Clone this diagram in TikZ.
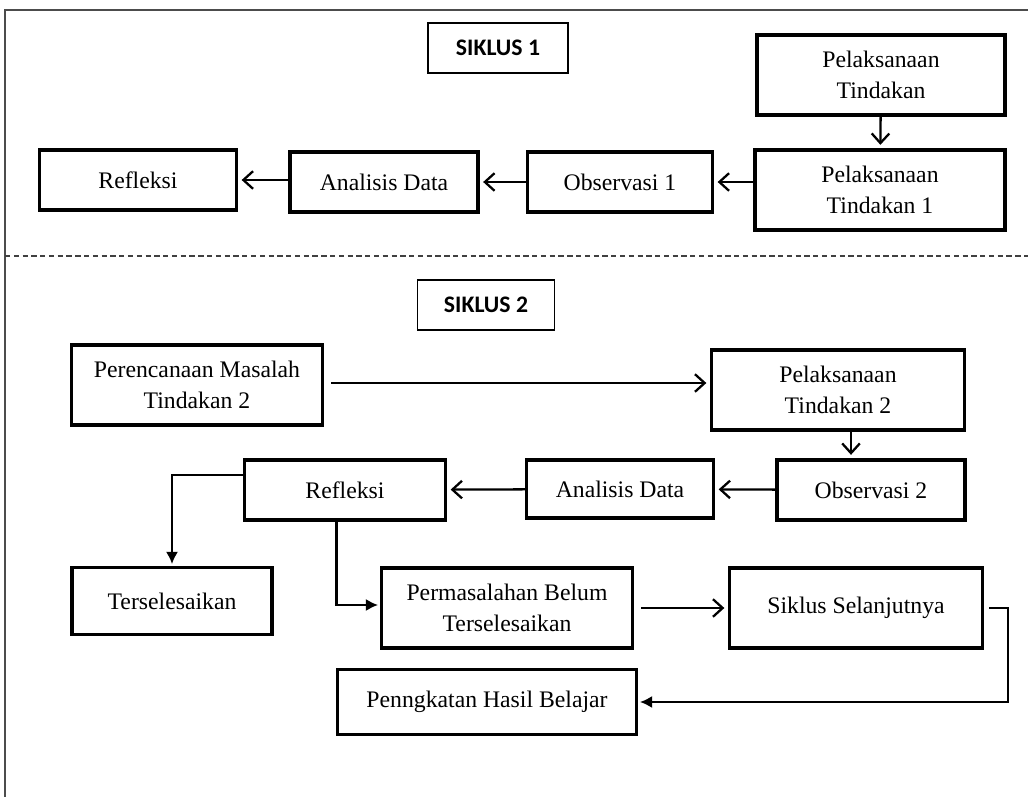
\documentclass[tikz,border=0pt]{standalone}
\usepackage{fontspec}
\setmainfont{Liberation Serif}
\newfontfamily\carlito{Carlito}
\usetikzlibrary{arrows.meta}
\tikzset{
  box/.style={draw, line width=1.9pt, align=center, inner sep=0pt,
    font=\fontsize{13.5}{18}\selectfont},
  title/.style={draw, line width=0.6pt, inner sep=0pt,
    font=\carlito\bfseries\fontsize{13.5}{16}\selectfont},
  flow/.style={line width=1.3pt, -{Straight Barb[length=5.5pt,width=10pt,line width=1.3pt]}, shorten >=2pt},
  flowfill/.style={line width=1.3pt, -{Latex[length=7pt,width=7pt]}, shorten >=1pt}
}

\begin{document}
\begin{tikzpicture}[x=0.02cm, y=-0.02cm]
      \useasboundingbox (0,0) rectangle (1028,797);
      % frame and divider
      \draw[line width=0.6pt, black!70] (5,797) -- (5,10) -- (1028,10);
      \draw[line width=0.7pt, black!75, dash pattern=on 3pt off 2pt] (5,256) -- (1028,256);
      % siklus 1
      \node[title, minimum width=2.8cm, minimum height=1cm] (s1) at (498,48) {SIKLUS 1};
      \node[box, minimum width=4.96cm, minimum height=1.6cm] (pt) at (881,75) {Pelaksanaan\\Tindakan};
      \node[box, minimum width=5cm, minimum height=1.6cm] (pt1) at (880,190) {Pelaksanaan\\Tindakan 1};
      \node[box, minimum width=3.7cm, minimum height=1.2cm] (obs1) at (620,182) {Observasi 1};
      \node[box, minimum width=3.76cm, minimum height=1.2cm] (ad1) at (384,182) {Analisis Data};
      \node[box, minimum width=3.94cm, minimum height=1.2cm] (ref1) at (138,180) {Refleksi};
      \draw[flow] (pt) -- (pt1);
      \draw[flow] (pt1.west |- obs1) -- (obs1);
      \draw[flow] (obs1) -- (ad1);
      \draw[flow] (ad1.west |- ref1) -- (ref1);
      % siklus 2
      \node[title, minimum width=2.74cm, minimum height=1cm] (s2) at (486,305) {SIKLUS 2};
      \node[box, minimum width=5.02cm, minimum height=1.6cm] (pm) at (197,385) {Perencanaan Masalah\\Tindakan 2};
      \node[box, minimum width=5.06cm, minimum height=1.6cm] (pt2) at (838,390) {Pelaksanaan\\Tindakan 2};
      \node[box, minimum width=3.76cm, minimum height=1.2cm] (obs2) at (871,490) {Observasi 2};
      \node[box, minimum width=3.74cm, minimum height=1.16cm] (ad2) at (620,489) {Analisis Data};
      \node[box, minimum width=4.02cm, minimum height=1.2cm] (ref2) at (345,490) {Refleksi};
      \node[box, minimum width=4cm, minimum height=1.34cm] (ts) at (172,601) {Terselesaikan};
      \node[box, minimum width=5.02cm, minimum height=1.6cm] (pb) at (507,608) {Permasalahan Belum\\Terselesaikan};
      \node[box, minimum width=5.06cm, minimum height=1.6cm] (ss) at (856,608) {Siklus Selanjutnya};
      \node[box, minimum width=5.98cm, minimum height=1.3cm] (ph) at (487,702) {Penngkatan Hasil Belajar};
      \coordinate (turn) at (1008,608);
      \draw[flow, shorten <=4pt] ([yshift=0.04cm]pm.east) -- ([yshift=0.04cm]pm.east -| pt2.west);
      \draw[flow] ([xshift=0.26cm]pt2.south) -- ([xshift=0.26cm]pt2.south |- obs2.north);
      \draw[flow] (obs2) -- (ad2);
      \draw[flow] (ad2) -- (ref2);
      \draw[flowfill] ([yshift=0.3cm]ref2.west) -| (ts.north);
      \draw[flowfill] ([xshift=-0.17cm]ref2.south) |- ([yshift=0.06cm]pb.west);
      \draw[flow, shorten <=4pt] (pb) -- (ss);
      \draw[flowfill, shorten <=3pt] (ss.east) -- (turn) |- (ph.east);
    \end{tikzpicture}
\end{document}
